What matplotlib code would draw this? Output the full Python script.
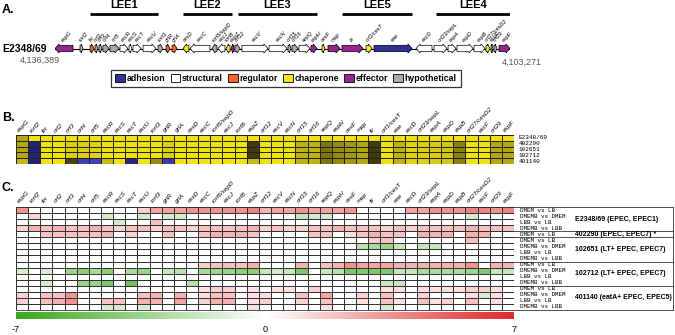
import numpy as np
import matplotlib
matplotlib.use("Agg")
import matplotlib.pyplot as plt
from matplotlib.colors import LinearSegmentedColormap
from matplotlib.patches import Polygon, Patch

plt.rcParams['font.family'] = ['Liberation Sans', 'DejaVu Sans']

W, H = 675, 335

# ---- data ----
genes = ["espG", "rorf2", "ler", "orf2", "orf3", "orf4", "orf5", "escR", "escS", "escT",
         "escU", "rorf3", "grlR", "grlA", "cesD", "escC", "rorf6/sepD", "escJ", "rorf8", "espZ",
         "orf12", "escV", "escN", "orf15", "orf16", "sepQ", "espH", "cesF", "map", "tir",
         "orf1/cesT", "eae", "escD", "orf23/sepL", "espA", "espD", "espB", "orf27/cesD2", "escF", "orf29",
         "espF"]

# map positions (kb from left end of the region)
gene_start = [0.00, 1.82, 2.55, 2.91, 3.20, 3.49, 4.00, 4.73, 5.39, 5.68,
              6.41, 7.50, 8.08, 8.52, 9.32, 9.83, 11.43, 11.86, 12.45, 12.81,
              13.10, 13.61, 15.58, 16.96, 17.25, 17.76, 18.63, 19.43, 19.87, 20.89,
              22.64, 23.22, 26.28, 27.59, 28.61, 29.26, 30.50, 31.37, 31.74, 31.95,
              32.32]
gene_end = [1.31, 2.04, 2.84, 3.13, 3.42, 3.93, 4.66, 5.31, 5.60, 6.26,
            7.35, 7.86, 8.37, 8.88, 9.75, 11.28, 11.79, 12.37, 12.74, 13.03,
            13.47, 15.50, 16.89, 17.18, 17.69, 18.56, 19.07, 19.65, 20.75, 22.42,
            23.07, 25.99, 27.44, 28.53, 29.19, 30.43, 31.30, 31.66, 31.88, 32.17,
            33.12]
gene_strand = [-1, 1, 1, 1, 1, 1, 1, 1, 1, 1,
               1, 1, 1, 1, -1, -1, -1, -1, -1, -1,
               1, 1, 1, 1, 1, 1, 1, 1, 1, 1,
               1, 1, -1, 1, 1, 1, 1, 1, 1, 1,
               1]
gene_class = ["effector", "hypothetical", "regulator", "hypothetical", "hypothetical", "hypothetical",
              "hypothetical", "structural", "structural", "structural",
              "structural", "hypothetical", "regulator", "regulator", "chaperone", "structural",
              "hypothetical", "structural", "chaperone", "effector",
              "hypothetical", "structural", "structural", "hypothetical", "hypothetical", "structural",
              "effector", "chaperone", "effector", "effector",
              "chaperone", "adhesion", "structural", "structural", "structural", "structural",
              "structural", "chaperone", "hypothetical", "hypothetical",
              "effector"]

lee_names = ["LEE1", "LEE2", "LEE3", "LEE5", "LEE4"]
lee_start = [2.55, 9.32, 13.32, 20.89, 27.73]
lee_end = [7.50, 12.88, 19.07, 25.99, 33.12]

class_names = ["adhesion", "structural", "regulator", "chaperone", "effector", "hypothetical"]
class_colors = ["#2e3192", "#ffffff", "#f26522", "#fbe41b", "#93278f", "#a7a9ac"]

# panel B: conservation relative to E2348/69 (1 = identical)
strains_b = ["E2348/69", "402290", "102651", "102712", "401140"]
cons_e2348 = [0.7] + [1.0] * 40
cons_402290 = [0.7, -0.25, 1, 1, 0.9, 0.9, 0.92, 1, 1, 1,
               1, 1, 0.9, 1, 1, 1, 1, 1, 1, 0.15,
               1, 1, 1, 0.75, 0.75, 0.45, 0.55, 0.62, 0.7, 0.15,
               1, 0.75, 0.92, 0.9, 0.88, 0.85, 0.5, 1, 1, 0.7,
               0.7]
cons_102651 = list(cons_402290)
cons_102712 = list(cons_402290)
cons_401140 = [0.78, -0.25, 1, 1, 0.2, -0.7, -0.7, 0.8, 1, -0.3,
               1, 0.55, -0.6, 1, 1, 1, 1, 1, 1, 0.8,
               1, 1, 1, 0.75, 0.75, 0.45, 0.55, 0.62, 0.7, 0.15,
               1, 0.75, 0.92, 0.9, 0.88, 0.85, 0.5, 1, 1, 0.7,
               0.7]

# panel C: log2 fold change
comparisons = ["DMEM vs LB", "DMEMB vs DMEM", "LBB vs LB", "DMEMB vs LBB"]
fc_rows = [
    # E2348/69
    [3.5, 0, 0, 0, 0, 0, 0, 0, 0, 0, 1.5, 3, 3, 3, 3.5, 3.5, 3.5, 3.5, 3.5, 4,
     2.5, 3, 3, 3.5, 3, 3, 3, 3.5, 0, 0, 0, 0, 3, 3, 3.5, 3.5, 3.5, 4, 4, 3.5, 4],
    [0, 1.5, 0, 0, 0, 0, 0, -1.5, 0, 0, -1.5, 0, -1.5, -1.5, 0, 0, 0, 0, 0, 0,
     0, 0, 0, -2, -1.5, -1.5, 0, 0, 0, 0, 0, 0, 0, 0, 0, 0, 0, -1.5, 0, 0, 0],
    [0, 0, 0, 0, 0, 0, 0, 0, -1.5, 0, 0, 2, 0, 0, 0, 0, 0, 0, 0, 0,
     0, 0, 0, 0, 0, 0, 0, 0, 0, 0, 0, 0, 0, 0, 0, 0, 0, 0, 0, 0, 0],
    [1.5, 2.5, 2, 2.5, 2, 2, 2.5, 2, 1.5, 2, 2, 1.5, 2, 2, 1.5, 2, 2, 2, 2, 2.5,
     1.5, 2, 1.5, 1.5, 2, 2, 2.5, 2, 2, 2, 1.5, 2, 1.5, 2, 2, 2, 2, 2.5, 2, 2, 2],
    # 402290
    [0, 0, 2, 2, 2, 2, 2, 2.5, 0, 1.5, 0, 0, 2, 0, 0, 2, 2.5, 2.5, 2.5, 2,
     0, 0, 0, 0, 2, 2, 0, 1, 2, 2.5, 2, 2, 0, 2.5, 2.5, 2.5, 0, 2.5, 2.5, 0, 0],
    # 102651
    [0, 0, 0, 0, 0, 0, 0, 0, 0, 0, 0, 0, 0, 0, 0, 0, 0, 0, 0, 0,
     0, 0, 0, 0, 0, 0, 0, 0, 0, 1.5, 2, 0, 0, 0, 0, 0, 0, 2, 0, 0, 0],
    [0, 0, 0, 0, 0, 0, 0, 0, 0, 0, 0, 0, 0, 0, 0, 0, 0, 0, 0, 0,
     0, 0, 0, 0, 0, 0, 0, 0, -2.5, -3, -3.5, -2, 0, -2, -2, 0, 0, 0, 0, 0, 0],
    [0] * 41,
    [0] * 41,
    # 102712
    [0, 0, 0, 0, 0, 0, 0, 0, 0, 0, 0, 0, 0, 0, 0, 1.5, 2, 2, 2, 2.5,
     0, 0, 0, 2.5, 0, 2, 2.5, 3.5, 3, 3, 3, 2.5, 2.5, 2.5, 2.5, 2.5, 2.5, 3.5, 0, 2.5, 2.5],
    [-1.5, 0, -1.5, 0, -3.5, -4, -3, -4, 0, -3, -3.5, 0, -2, -2.5, 0, -3, -3.5, -3.5, -4, -4,
     -2, -1.5, -2, -4.5, 0, -2, -2.5, -4.5, -4.5, -4.5, -4.5, -2, -2, -3, -3, -3, -3, -3.5, -4.5, -2, -2],
    [0] * 41,
    [0, 0, -1.5, 0, 0, -3.5, -3.5, -4.5, 0, -5, 0, 0, 0, 0, -2.5, 0, 0, 0, 0, 0,
     0, 0, 0, 0, 0, 0, 0, 0, 0, 0, -2, -2, 0, 0, 0, 0, 0, 0, 0, 0, 0],
    # 401140
    [0, 0, 0, 0, 0, 0, 0, 0, 0, 0, 0, 0, 0, 0, 0, 1, 1.5, 1.5, 0, 1,
     0, 1, 1, 0, 1.5, 0, 0, 0, 0, 0, 1, 1, 0, 1, 1, 1, 1, 1.5, 1.5, 1, 0],
    [1.5, 0, 2, 2, 3.5, 0, 0, 0, 0, 0, 2, 2.5, 0, 2.5, 0, 1, 2, 2, 0, 1,
     1, 0, 0, 2, 0, 3, 0, 0, 1.5, 0, 2, 0, 0, 1.5, 0, 0, 0, 1, -1.5, 1, 0],
    [1.5, 0, 2, 2.5, 3.5, 0, 0, 2, 2, 0, 2.5, 2.5, 0, 3, 0, 1.5, 2.5, 2.5, 0, 1,
     1.5, 0, 0, 1.5, 0, 2, 0, 0, 1, 0, 2, 1, 0, 2, 1, 1.5, 0, 2, 0, 1, 0],
    [0, 0, 0, 0, 0, 0, 0, -1.5, -1.5, 0, -1.5, 0, 0, 0, 0, 0, 0, 0, 0, 1,
     0, 0, 0, 0, 0, 1, 0, 0, 0, 0, -1.5, 0, 0, 0, 0, 0, 0, 0, 0, 0, 0],
]
row_comparisons = comparisons + ["DMEM vs LB"] + comparisons * 3
strain_labels = ["E2348/69 (EPEC, EPEC1)", "402290 (EPEC, EPEC7) *", "102651 (LT+ EPEC, EPEC7)",
                 "102712 (LT+ EPEC, EPEC7)", "401140 (eatA+ EPEC, EPEC5)"]
strain_rows = [(0, 4), (4, 5), (5, 9), (9, 13), (13, 17)]
scale_ticks = [-7, 0, 7]

fig = plt.figure(figsize=(W / 100, H / 100), dpi=100)


def px_axes(x0, y0, x1, y1):
    return fig.add_axes([x0 / W, 1 - y1 / H, (x1 - x0) / W, (y1 - y0) / H])


# ---- panel A: gene map ----
axA = px_axes(55, 0, 510, 100)
axA.set_xlim(0, 33.118)
axA.set_ylim(100, 0)
axA.axis("off")
yc = 48.5
axA.plot([-0.5, 33.3], [yc, yc], color="black", lw=0.8, zorder=1)
color_of = dict(zip(class_names, class_colors))
for name, s, e, d, c in zip(genes, gene_start, gene_end, gene_strand, gene_class):
    hl = min(0.3, (e - s) * 0.6)
    bh, hh = 3.2, 4.5
    if d > 0:
        pts = [(s, yc - bh), (e - hl, yc - bh), (e - hl, yc - hh), (e, yc),
               (e - hl, yc + hh), (e - hl, yc + bh), (s, yc + bh)]
    else:
        pts = [(e, yc - bh), (s + hl, yc - bh), (s + hl, yc - hh), (s, yc),
               (s + hl, yc + hh), (s + hl, yc + bh), (e, yc + bh)]
    axA.add_patch(Polygon(pts, closed=True, facecolor=color_of[c], edgecolor="black", lw=0.5, zorder=2))
    axA.text((s + e) / 2, yc - 5.5, name, rotation=45, rotation_mode="anchor", ha="left", va="bottom",
             fontsize=4, style="italic")
for name, s, e in zip(lee_names, lee_start, lee_end):
    axA.plot([s, e], [14, 14], color="black", lw=2, solid_capstyle="butt")
    axA.text((s + e) / 2, 10, name, ha="center", va="bottom", fontsize=8, weight="bold")

fig.text(2 / W, 1 - 10 / H, "A.", fontsize=9, weight="bold", va="center")
fig.text(2 / W, 1 - 118 / H, "B.", fontsize=9, weight="bold", va="center")
fig.text(2 / W, 1 - 188 / H, "C.", fontsize=9, weight="bold", va="center")
fig.text(47 / W, 1 - 49 / H, "E2348/69", fontsize=7.5, weight="bold", ha="right", va="center")
fig.text(40 / W, 1 - 60 / H, "4,136,389", fontsize=6.5, color="#555555", ha="center", va="center")
fig.text(522 / W, 1 - 62 / H, "4,103,271", fontsize=6.5, color="#555555", ha="center", va="center")

handles = [Patch(facecolor=col, edgecolor="black", lw=0.6, label=n) for n, col in zip(class_names, class_colors)]
leg = fig.legend(handles=handles, loc="center", bbox_to_anchor=(286 / W, 1 - 78.5 / H), ncol=6,
                 fontsize=6.3, frameon=True, fancybox=False, handlelength=1.1, handleheight=1.1,
                 handletextpad=0.2, columnspacing=0.6, borderpad=0.5)
leg.get_frame().set_edgecolor("black")
leg.get_frame().set_linewidth(0.9)
for t in leg.get_texts():
    t.set_fontweight("bold")

# ---- panel B ----
cons = np.array([cons_e2348, cons_402290, cons_102651, cons_102712, cons_401140])
cmap_b = LinearSegmentedColormap.from_list(
    "yb", [(0.0, "#5555dd"), (0.4, "#20206e"), (0.55, "#35300c"), (1.0, "#f0e212")])
axB = px_axes(16, 135, 514, 164)
axB.pcolormesh(cons, cmap=cmap_b, vmin=-1, vmax=1, edgecolors="#222222", linewidth=0.5)
axB.set_xlim(0, 41)
axB.set_ylim(5, 0)
axB.axis("off")
for j, g in enumerate(genes):
    axB.text(j + 0.35, -0.3, g, rotation=45, rotation_mode="anchor", ha="left", va="bottom",
             fontsize=4.5, style="italic")
for i, s in enumerate(strains_b):
    axB.text(41.4, i + 0.5, s, fontsize=4.3, family="Liberation Mono", va="center")

# ---- panel C ----
fc = np.array(fc_rows)
cmap_c = LinearSegmentedColormap.from_list("gwr", ["#3aa81a", "#ffffff", "#de2a28"])
axC = px_axes(16, 207, 514, 310)
axC.pcolormesh(fc, cmap=cmap_c, vmin=-7, vmax=7, edgecolors="#333333", linewidth=0.5)
axC.set_xlim(0, 41)
axC.set_ylim(17, 0)
axC.axis("off")
for j, g in enumerate(genes):
    axC.text(j + 0.35, -0.5, g, rotation=45, rotation_mode="anchor", ha="left", va="bottom",
             fontsize=4.5, style="italic")
for i, s in enumerate(row_comparisons):
    axC.text(41.5, i + 0.5, s, fontsize=4.2, family="Liberation Mono", va="center")
xr = 41 + (673 - 514) / 12.15
for (r0, r1), lab in zip(strain_rows, strain_labels):
    axC.text(46.0, (r0 + r1) / 2, lab, fontsize=5, weight="bold", va="center")
for yb in [0, 4, 5, 9, 13, 17]:
    axC.plot([0, xr], [yb, yb], color="#333333", lw=0.6, clip_on=False)
axC.plot([xr, xr], [0, 17], color="#333333", lw=0.6, clip_on=False)

# colour scale
axCb = px_axes(16, 312, 514, 319)
axCb.imshow(np.linspace(-7, 7, 256)[None, :], cmap=cmap_c, aspect="auto", extent=(-7, 7, 0, 1))
axCb.set_xlim(-7, 7)
axCb.axis("off")
for v in scale_ticks:
    axCb.annotate(str(v), xy=(v, 0), xycoords="data", xytext=(0, -4), textcoords="offset points",
                  ha="center", va="top", fontsize=6.5)

fig.savefig("out.png", dpi=100)
